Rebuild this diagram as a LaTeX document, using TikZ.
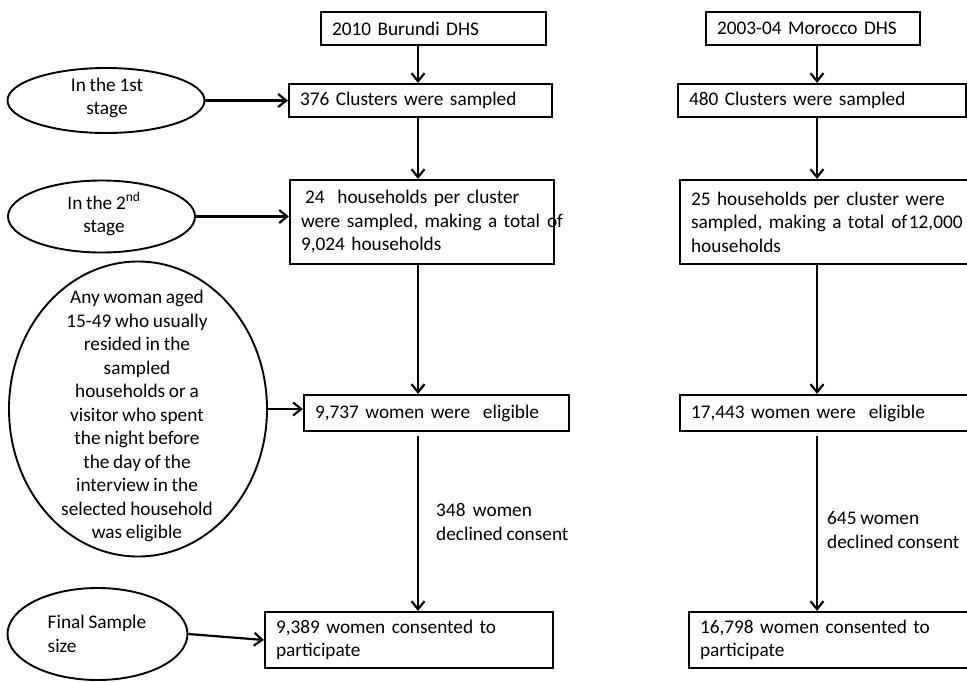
\documentclass[tikz,border=0pt]{standalone}
\usepackage{fontspec}
\setmainfont{Carlito}[WordSpace=0.85]
\usetikzlibrary{arrows.meta,shapes.geometric}

\begin{document}
\begin{tikzpicture}[x=1pt,y=-1pt,
    every node/.style={font=\fontsize{19.3pt}{23.5pt}\selectfont},
    box/.style={draw, line width=2.2pt, rectangle, align=left, inner xsep=11pt, inner ysep=0pt},
    oval/.style={draw, ellipse, line width=1.9pt, inner sep=0pt},
    txt/.style={inner sep=0pt, align=center},
    arr/.style={-{Straight Barb[length=8pt,width=13pt]}, line width=2.2pt}]
  \useasboundingbox (0,0) rectangle (967,681);
  \clip (0,0) rectangle (967,681);
  \coordinate (lx) at (418,0);
  \coordinate (rx) at (817,0);

  % Burundi
  \node[box, text width=203pt, minimum height=33pt] (bdhs) at (433.5,28.5) {2010 Burundi DHS};
  \node[box, text width=241pt, minimum height=33pt] (bclu) at (420.5,100.5) {376 Clusters were sampled};
  \node[box, text width=242pt, minimum height=84pt] (bhh) at (422,222)
    {\mbox{\hspace*{4pt}24\ \ households per cluster}\\\mbox{were sampled, making a total\hspace{7pt}of}\\\mbox{9,024 households}};
  \node[box, text width=243pt, minimum height=36pt] (belig) at (436.5,413) {9,737 women were\ \ eligible};
  \node[box, text width=266pt, minimum height=56pt] (bcons) at (409,640) {9,389 women consented to\\participate};
  \node[txt, align=left, anchor=west] (bdecl) at (436,522) {348\ \ women\\declined consent};

  % Morocco
  \node[box, text width=192pt, minimum height=33pt] (mdhs) at (813,28.5) {2003-04 Morocco DHS};
  \node[box, text width=266pt, minimum height=33pt] (mclu) at (822,100.5) {480 Clusters were sampled};
  \node[box, text width=308pt, minimum height=84pt] (mhh) at (845,222)
    {\mbox{25 households per cluster were}\\\mbox{sampled, making a total\hspace{7pt}of\hspace{1.5pt}12,000}\\\mbox{households}};
  \node[box, text width=308pt, minimum height=36pt] (melig) at (845,413) {17,443 women were\ \ eligible};
  \node[box, text width=299pt, minimum height=56pt] (mcons) at (849.5,640) {16,798 women consented to\\participate};
  \node[txt, align=left, anchor=west] (mdecl) at (827,530) {645 women\\declined consent};

  % stages
  \node[oval, minimum width=197pt, minimum height=65pt] (st1) at (106,100.5) {};
  \node[txt] (st1t) at (107,98) {In the 1st\\stage};
  \node[oval, minimum width=187pt, minimum height=72pt] (st2) at (101.5,216.5) {};
  \node[txt] (st2t) at (104,214) {In the 2\textsuperscript{nd}\\stage};
  \node[oval, minimum width=258pt, minimum height=295pt] (elig) at (138,409) {};
  \node[txt] (eligt) at (137,416)
    {Any woman aged\\15-49 who usually\\resided in the\\sampled\\households or a\\visitor who spent\\the night before\\the day of the\\interview in the\\selected household\\was eligible};
  \node[oval, minimum width=180pt, minimum height=92pt] (fin) at (97.5,634) {};
  \node[txt, align=left] (fint) at (97,634) {Final Sample\\size};

  \draw[arr] (bdhs.south -| lx) -- (bclu.north -| lx);
  \draw[arr] (bclu.south -| lx) -- (bhh.north -| lx);
  \draw[arr] (bhh.south -| lx) -- (belig.north -| lx);
  \draw[arr, shorten <=4pt] (belig.south -| lx) -- (bcons.north -| lx);
  \draw[arr] (mdhs.south -| rx) -- (mclu.north -| rx);
  \draw[arr] (mclu.south -| rx) -- (mhh.north -| rx);
  \draw[arr] (mhh.south -| rx) -- (melig.north -| rx);
  \draw[arr, shorten <=4pt] (melig.south -| rx) -- (mcons.north -| rx);

  \draw[arr] (st1.east) -- (st1.east -| bclu.west);
  \draw[arr] (st2.east) -- (st2.east -| bhh.west);
  \draw[arr] (elig.east) -- (elig.east -| belig.west);
  \draw[arr] (fin.east) -- (bcons.west);
\end{tikzpicture}
\end{document}
